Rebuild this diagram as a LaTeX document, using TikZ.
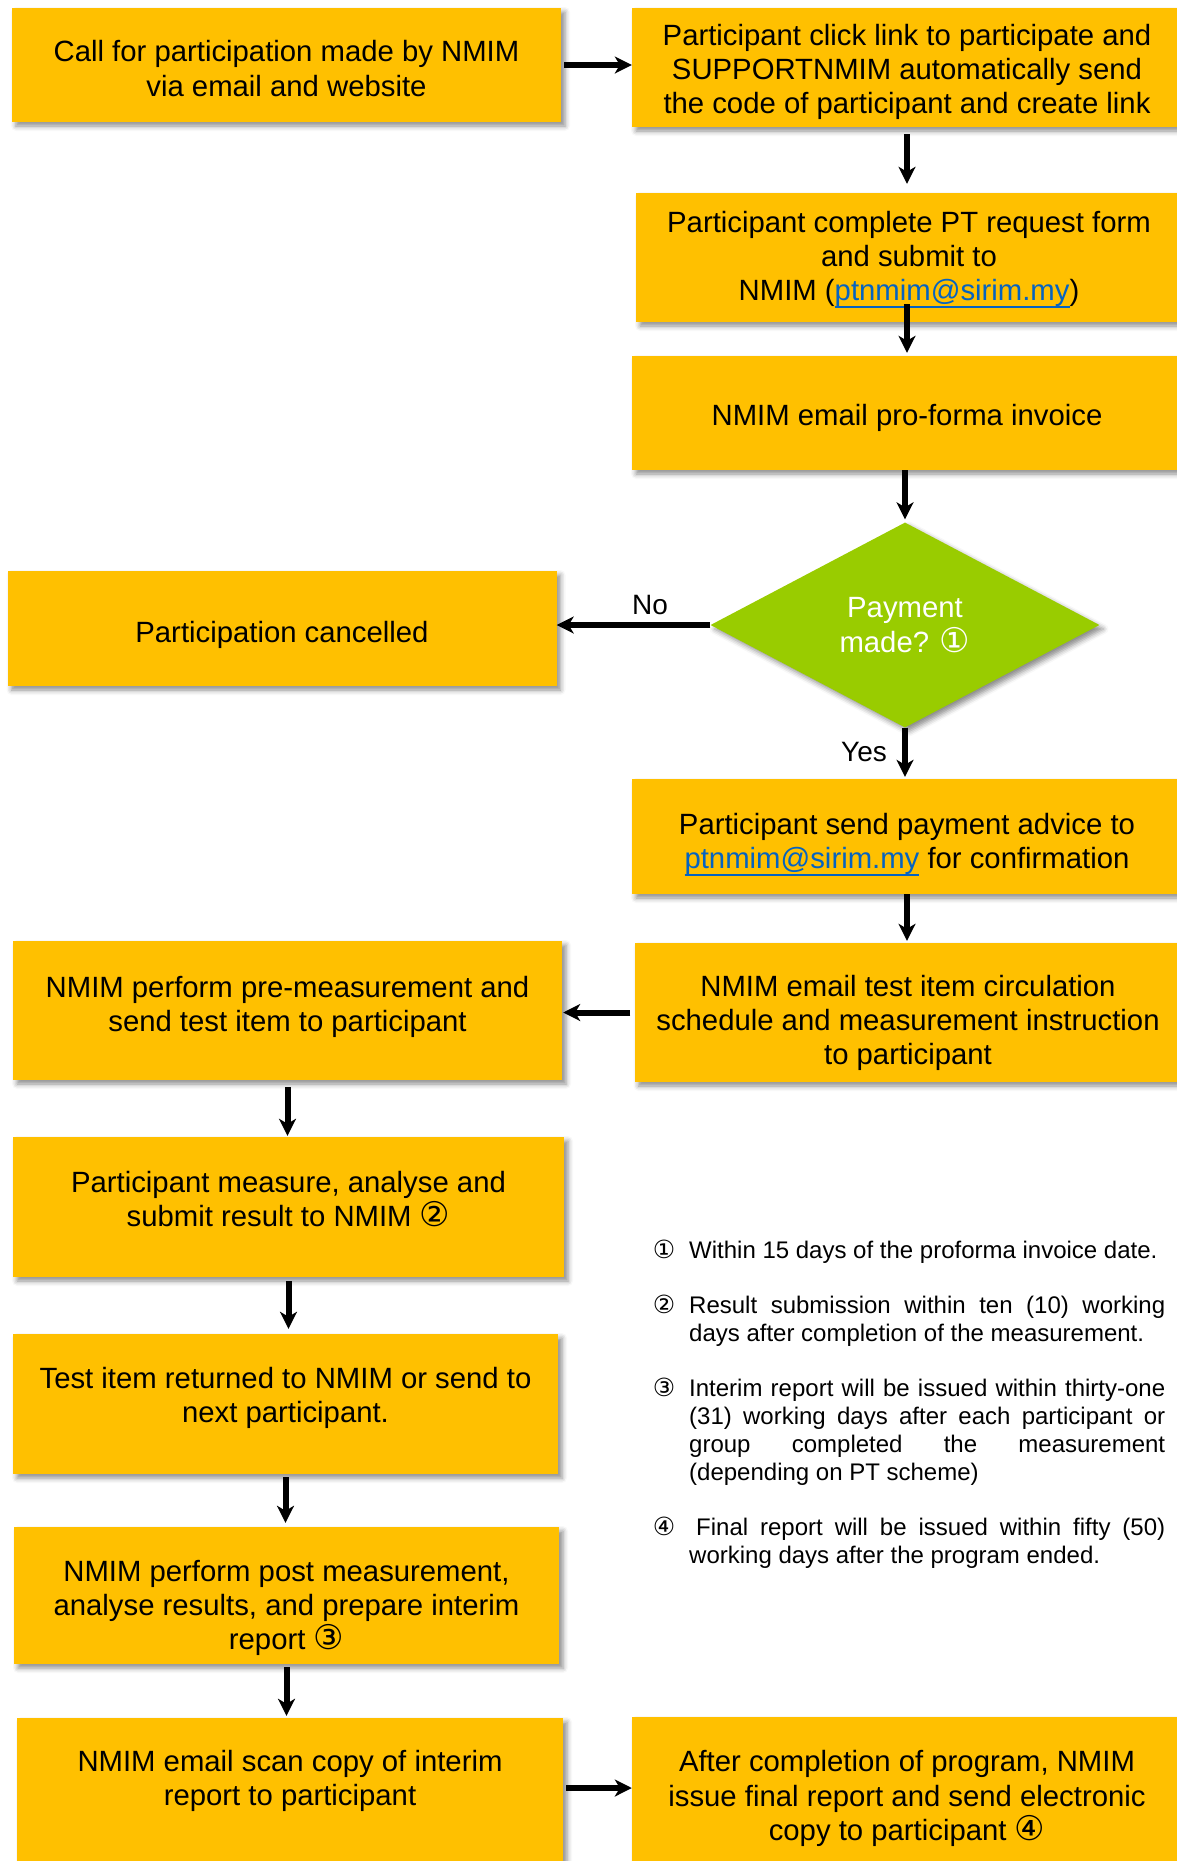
\documentclass[tikz,border=0pt]{standalone}
\usepackage{fontspec}
\setmainfont{Liberation Sans}
\newfontfamily\dvs{DejaVu Sans}
\usetikzlibrary{arrows.meta,shapes.geometric,shadows.blur,calc}
\definecolor{boxfill}{HTML}{FFC000}
\definecolor{diafill}{HTML}{99CC00}
\definecolor{linkblue}{HTML}{0563C1}
\newcommand\mailto[1]{\textcolor{linkblue}{\setbox0\hbox{#1}\rlap{\rule[-7.5pt]{\wd0}{1.8pt}}\box0}}
\newcommand\cnum[1]{{\dvs\fontsize{34}{0}\selectfont#1}}
\newcommand\cnumsmall[1]{{\dvs\fontsize{25}{0}\selectfont#1}}
\begin{document}
\begin{tikzpicture}[x=1pt,y=-1pt,
  shad/.style={blur shadow={shadow xshift=4pt, shadow yshift=-4pt, shadow blur radius=5pt, shadow opacity=45}},
  box/.style={rectangle, fill=boxfill, inner sep=0pt, shad},
  txt/.style={inner sep=0pt, align=center, font=\fontsize{29.3}{34.2}\selectfont},
  dia/.style={diamond, fill=diafill, text=white, inner sep=0pt, align=center,
    minimum width=389pt, minimum height=205pt, font=\fontsize{29.3}{34.2}\selectfont, shad},
  arr/.style={line width=6pt, -{Stealth[length=17pt,width=17pt,inset=5pt]}},
  lbl/.style={inner sep=0pt, font=\fontsize{28}{32}\selectfont},
  note/.style={inner sep=0pt, anchor=base west, font=\fontsize{24}{28}\selectfont},
  cnote/.style={inner sep=0pt, anchor=base}]
\useasboundingbox (0,0) rectangle (1177,1861);

\node[box, minimum width=549pt, minimum height=114pt] (b1) at (286.5,65) {};
\node[txt] (t1) at (286.5,68.5) {Call for participation made by NMIM\\via email and website};
\node[box, minimum width=550pt, minimum height=119pt] (b2) at (907,67.5) {};
\node[txt] (t2) at (907,72) {Participant click link to participate and\\SUPPORTNMIM automatically send\\the code of participant and create link};
\node[box, minimum width=546pt, minimum height=129pt] (b3) at (909,257.5) {};
\node[txt] (t3) at (909,259.5) {Participant complete PT request form\\and submit to\\NMIM (\mailto{ptnmim@sirim.my})};
\node[box, minimum width=550pt, minimum height=114pt] (b4) at (907,413) {};
\node[txt] (t4) at (907,417.5) {NMIM email pro-forma invoice};
\node[dia] (d) at (905,625) {Payment\\made? \cnum{①}};
\node[box, minimum width=549pt, minimum height=115pt] (bc) at (282,628.5) {};
\node[txt] (tc) at (282,634.5) {Participation cancelled};
\node[box, minimum width=550pt, minimum height=115pt] (b5) at (907,836.5) {};
\node[txt] (t5) at (907,844.5) {Participant send payment advice to\\\mailto{ptnmim@sirim.my} for confirmation};
\node[box, minimum width=547pt, minimum height=139pt] (b6) at (908,1012.5) {};
\node[txt] (t6) at (908,1023) {NMIM email test item circulation\\schedule and measurement instruction\\to participant};
\node[box, minimum width=549pt, minimum height=139pt] (b7) at (287.5,1010.5) {};
\node[txt] (t7) at (287.5,1007) {NMIM perform pre-measurement and\\send test item to participant};
\node[box, minimum width=551pt, minimum height=140pt] (b8) at (288.5,1207) {};
\node[txt] (t8) at (288.5,1199) {Participant measure, analyse and\\submit result to NMIM \cnum{②}};
\node[box, minimum width=545pt, minimum height=140pt] (b9) at (285.5,1404) {};
\node[txt] (t9) at (285.5,1398) {Test item returned to NMIM or send to\\next participant.};
\node[box, minimum width=545pt, minimum height=137pt] (b10) at (286.5,1595.5) {};
\node[txt] (t10) at (286.5,1608) {NMIM perform post measurement,\\analyse results, and prepare interim\\report \cnum{③}};
\node[box, minimum width=546pt, minimum height=163pt] (b11) at (290,1799.5) {};
\node[txt] (t11) at (290,1781) {NMIM email scan copy of interim\\report to participant};
\node[box, minimum width=550pt, minimum height=163pt] (b12) at (907,1798.5) {};
\node[txt] (t12) at (907,1798.5) {After completion of program, NMIM\\issue final report and send electronic\\copy to participant \cnum{④}};

\node[lbl] (no) at (650,605) {No};
\node[lbl] (yes) at (864,752) {Yes};

\draw[arr, shorten <=3pt] (b1.east) -- (b1.east -| b2.west);
\draw[arr, shorten <=7pt, shorten >=9pt] (b2.south) -- (b2.south |- b3.north);
\draw[arr, shorten <=-18pt, shorten >=3pt] (b3.south -| b4.north) -- (b4.north);
\draw[arr, shorten >=3pt] (b4.south -| d.north) -- (d.north);
\draw[arr] (d.west) -- (d.west -| bc.east);
\draw[arr, shorten >=2pt] (d.south) -- (d.south |- b5.north);
\draw[arr, shorten >=2pt] (b5.south) -- (b5.south |- b6.north);
\draw[arr, shorten <=4pt, shorten >=1pt] (b6.west) -- (b6.west -| b7.east);
\draw[arr, shorten <=7pt, shorten >=1pt] (b7.south) -- (b7.south |- b8.north);
\draw[arr, shorten <=4pt, shorten >=5pt] (b8.south) -- (b8.south |- b9.north);
\draw[arr, shorten <=3pt, shorten >=4pt] (b9.south) -- (b9.south |- b10.north);
\draw[arr, shorten <=3pt, shorten >=2pt] (b10.south) -- (b10.south |- b11.north);
\draw[arr, shorten <=3pt] ($(b11.east)+(0,-11.5)$) -- ($(b11.east -| b12.west)+(0,-11.5)$);

\node[cnote] (c1) at (664,1258) {\cnumsmall{①}};
\node[note] (n1) at (689,1258) {\parbox[t]{476pt}{Within 15 days of the proforma invoice date.}};
\node[cnote] (c2) at (664,1313) {\cnumsmall{②}};
\node[note] (n2) at (689,1313) {\parbox[t]{476pt}{\hyphenpenalty=10000
  Result submission within ten (10) working\linebreak days after completion of the measurement.}};
\node[cnote] (c3) at (664,1396) {\cnumsmall{③}};
\node[note] (n3) at (689,1396) {\parbox[t]{476pt}{\hyphenpenalty=10000
  Interim report will be issued within thirty-one\linebreak (31) working days after each participant or\linebreak group completed the measurement\linebreak (depending on PT scheme)}};
\node[cnote] (c4) at (664,1535) {\cnumsmall{④}};
\node[note] (n4) at (689,1535) {\parbox[t]{476pt}{\hyphenpenalty=10000
  \hspace*{7pt}Final report will be issued within fifty (50)\linebreak working days after the program ended.}};
\end{tikzpicture}
\end{document}
